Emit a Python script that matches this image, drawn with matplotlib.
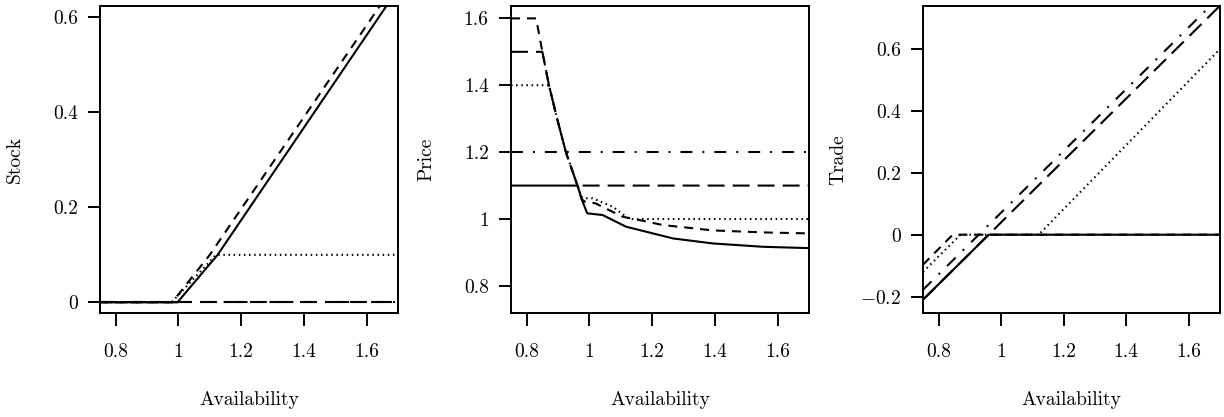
import matplotlib
matplotlib.use("Agg")
import matplotlib.pyplot as plt

plt.rcParams['font.family'] = ['cmr10', 'DejaVu Serif']
plt.rcParams['mathtext.fontset'] = 'cm'
plt.rcParams['axes.formatter.use_mathtext'] = True
plt.rcParams['lines.scale_dashes'] = False

# ---------------- data ----------------
x_ticks = [0.8, 1.0, 1.2, 1.4, 1.6]
x_ticklabels = ['0.8', '1', '1.2', '1.4', '1.6']

# Stock panel
stock_solid_x = [0.75, 0.997, 1.125, 1.70]
stock_solid_y = [0.0, 0.0, 0.100, 0.660]
stock_dashed_x = [0.75, 0.98, 1.10, 1.70]
stock_dashed_y = [0.0, 0.0, 0.100, 0.680]
stock_dotted_x = [0.75, 0.978, 1.12, 1.70]
stock_dotted_y = [0.0, 0.0, 0.100, 0.100]
stock_longdash_x = [0.75, 1.70]
stock_longdash_y = [0.0, 0.0]
stock_dashdot_x = [0.75, 1.70]
stock_dashdot_y = [0.0, 0.0]
stock_yticks = [0.0, 0.2, 0.4, 0.6]
stock_yticklabels = ['0', '0.2', '0.4', '0.6']

# Price panel
price_solid_x = [0.75, 0.962, 0.975, 0.993, 1.042, 1.074, 1.117, 1.181, 1.266, 1.393, 1.553, 1.70]
price_solid_y = [1.10, 1.10, 1.06, 1.017, 1.012, 0.997, 0.977, 0.962, 0.942, 0.927, 0.917, 0.913]
price_dashed_x = [0.75, 0.83, 0.85, 0.871, 0.897, 0.925, 0.962, 0.975, 0.985, 1.019, 1.105, 1.159, 1.234, 1.393, 1.553, 1.70]
price_dashed_y = [1.60, 1.60, 1.50, 1.40, 1.30, 1.20, 1.10, 1.06, 1.052, 1.047, 1.007, 0.997, 0.982, 0.966, 0.960, 0.957]
price_dotted_x = [0.75, 0.871, 0.897, 0.925, 0.962, 0.975, 0.983, 1.01, 1.074, 1.127, 1.70]
price_dotted_y = [1.40, 1.40, 1.30, 1.20, 1.10, 1.066, 1.062, 1.062, 1.037, 1.0, 1.0]
price_longdash_x = [0.75, 0.85, 0.871, 0.897, 0.925, 0.962, 1.70]
price_longdash_y = [1.50, 1.50, 1.40, 1.30, 1.20, 1.10, 1.10]
price_dashdot_x = [0.75, 1.70]
price_dashdot_y = [1.20, 1.20]
price_yticks = [0.8, 1.0, 1.2, 1.4, 1.6]
price_yticklabels = ['0.8', '1', '1.2', '1.4', '1.6']

# Trade panel
trade_solid_x = [0.75, 0.96, 1.70]
trade_solid_y = [-0.21, 0.0, 0.0]
trade_dashed_x = [0.75, 0.845, 1.70]
trade_dashed_y = [-0.097, 0.0, 0.0]
trade_dotted_x = [0.75, 0.87, 1.12, 1.70]
trade_dotted_y = [-0.12, 0.0, 0.0, 0.60]
trade_longdash_x = [0.75, 1.70]
trade_longdash_y = [-0.21, 0.74]
trade_dashdot_x = [0.75, 1.70]
trade_dashdot_y = [-0.178, 0.77]
trade_yticks = [-0.2, 0.0, 0.2, 0.4, 0.6]
trade_yticklabels = [r'$-$0.2', '0', '0.2', '0.4', '0.6']

# ---------------- styles ----------------
LW = 1.5
styles = {
    'longdash': dict(color='black', lw=LW, dashes=(12.2, 5.8)),
    'dashdot': dict(color='black', lw=LW, dashes=(8.6, 7.2, 1.4, 7.2)),
    'dotted': dict(color='black', lw=LW, dashes=(1.1, 2.6)),
    'dashed': dict(color='black', lw=LW, dashes=(6.5, 5.0)),
    'solid': dict(color='black', lw=LW, linestyle='-'),
}
order = ['longdash', 'dashdot', 'dotted', 'dashed', 'solid']

panels = [
    dict(label='Stock', ylim=(-0.0225, 0.624), yticks=stock_yticks, yticklabels=stock_yticklabels,
         series={'solid': (stock_solid_x, stock_solid_y), 'dashed': (stock_dashed_x, stock_dashed_y),
                 'dotted': (stock_dotted_x, stock_dotted_y), 'longdash': (stock_longdash_x, stock_longdash_y),
                 'dashdot': (stock_dashdot_x, stock_dashdot_y)},
         rect=[100 / 1224, 104 / 417, 298 / 1224, 307 / 417]),
    dict(label='Price', ylim=(0.719, 1.637), yticks=price_yticks, yticklabels=price_yticklabels,
         series={'solid': (price_solid_x, price_solid_y), 'dashed': (price_dashed_x, price_dashed_y),
                 'dotted': (price_dotted_x, price_dotted_y), 'longdash': (price_longdash_x, price_longdash_y),
                 'dashdot': (price_dashdot_x, price_dashdot_y)},
         rect=[511 / 1224, 104 / 417, 298 / 1224, 307 / 417]),
    dict(label='Trade', ylim=(-0.253, 0.739), yticks=trade_yticks, yticklabels=trade_yticklabels,
         series={'solid': (trade_solid_x, trade_solid_y), 'dashed': (trade_dashed_x, trade_dashed_y),
                 'dotted': (trade_dotted_x, trade_dotted_y), 'longdash': (trade_longdash_x, trade_longdash_y),
                 'dashdot': (trade_dashdot_x, trade_dashdot_y)},
         rect=[923 / 1224, 104 / 417, 297 / 1224, 307 / 417]),
]

fig = plt.figure(figsize=(12.24, 4.17), dpi=100)
FS = 14
for p in panels:
    ax = fig.add_axes(p['rect'])
    for name in order:
        xs, ys = p['series'][name]
        ax.plot(xs, ys, **styles[name])
    ax.set_xlim(0.75, 1.70)
    ax.set_ylim(*p['ylim'])
    ax.set_xticks(x_ticks)
    ax.set_xticklabels(x_ticklabels, fontsize=FS)
    ax.set_yticks(p['yticks'])
    ax.set_yticklabels(p['yticklabels'], fontsize=FS)
    ax.tick_params(axis='x', direction='out', length=9, width=1.4, pad=13)
    ax.tick_params(axis='y', direction='out', length=9, width=1.4, pad=7)
    for s in ax.spines.values():
        s.set_linewidth(1.4)
    ax.set_xlabel('Availability', fontsize=FS)
    ax.set_ylabel(p['label'], fontsize=FS, va='center')
    ax.xaxis.set_label_coords(0.5, -0.255)
    ax.yaxis.set_label_coords(-0.285, 0.5)

fig.savefig('out.png', dpi=100)
